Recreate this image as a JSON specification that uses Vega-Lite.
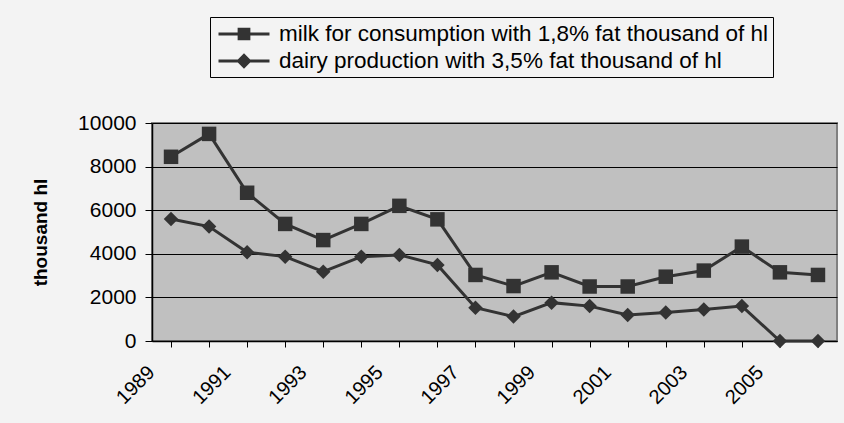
{
  "$schema": "https://vega.github.io/schema/vega-lite/v6.json",
  "autosize": "none",
  "width": 685,
  "height": 218,
  "padding": {"left": 152, "top": 123, "right": 7, "bottom": 82},
  "background": "#f3f3f3",
  "config": {
    "font": "Liberation Sans",
    "view": {"fill": "#c0c0c0", "stroke": "#808080", "strokeWidth": 2}
  },
  "data": {
    "values": [
      {"year": 1989, "series": "milk for consumption with 1,8% fat thousand of hl", "value": 8450},
      {"year": 1990, "series": "milk for consumption with 1,8% fat thousand of hl", "value": 9500},
      {"year": 1991, "series": "milk for consumption with 1,8% fat thousand of hl", "value": 6800},
      {"year": 1992, "series": "milk for consumption with 1,8% fat thousand of hl", "value": 5370},
      {"year": 1993, "series": "milk for consumption with 1,8% fat thousand of hl", "value": 4630},
      {"year": 1994, "series": "milk for consumption with 1,8% fat thousand of hl", "value": 5370},
      {"year": 1995, "series": "milk for consumption with 1,8% fat thousand of hl", "value": 6200},
      {"year": 1996, "series": "milk for consumption with 1,8% fat thousand of hl", "value": 5580},
      {"year": 1997, "series": "milk for consumption with 1,8% fat thousand of hl", "value": 3030},
      {"year": 1998, "series": "milk for consumption with 1,8% fat thousand of hl", "value": 2520},
      {"year": 1999, "series": "milk for consumption with 1,8% fat thousand of hl", "value": 3150},
      {"year": 2000, "series": "milk for consumption with 1,8% fat thousand of hl", "value": 2500},
      {"year": 2001, "series": "milk for consumption with 1,8% fat thousand of hl", "value": 2500},
      {"year": 2002, "series": "milk for consumption with 1,8% fat thousand of hl", "value": 2950},
      {"year": 2003, "series": "milk for consumption with 1,8% fat thousand of hl", "value": 3230},
      {"year": 2004, "series": "milk for consumption with 1,8% fat thousand of hl", "value": 4330},
      {"year": 2005, "series": "milk for consumption with 1,8% fat thousand of hl", "value": 3150},
      {"year": 2006, "series": "milk for consumption with 1,8% fat thousand of hl", "value": 3030},
      {"year": 1989, "series": "dairy production with 3,5% fat thousand of hl", "value": 5600},
      {"year": 1990, "series": "dairy production with 3,5% fat thousand of hl", "value": 5250},
      {"year": 1991, "series": "dairy production with 3,5% fat thousand of hl", "value": 4070},
      {"year": 1992, "series": "dairy production with 3,5% fat thousand of hl", "value": 3870},
      {"year": 1993, "series": "dairy production with 3,5% fat thousand of hl", "value": 3180},
      {"year": 1994, "series": "dairy production with 3,5% fat thousand of hl", "value": 3870},
      {"year": 1995, "series": "dairy production with 3,5% fat thousand of hl", "value": 3950},
      {"year": 1996, "series": "dairy production with 3,5% fat thousand of hl", "value": 3490},
      {"year": 1997, "series": "dairy production with 3,5% fat thousand of hl", "value": 1530},
      {"year": 1998, "series": "dairy production with 3,5% fat thousand of hl", "value": 1120},
      {"year": 1999, "series": "dairy production with 3,5% fat thousand of hl", "value": 1760},
      {"year": 2000, "series": "dairy production with 3,5% fat thousand of hl", "value": 1600},
      {"year": 2001, "series": "dairy production with 3,5% fat thousand of hl", "value": 1190},
      {"year": 2002, "series": "dairy production with 3,5% fat thousand of hl", "value": 1310},
      {"year": 2003, "series": "dairy production with 3,5% fat thousand of hl", "value": 1450},
      {"year": 2004, "series": "dairy production with 3,5% fat thousand of hl", "value": 1600},
      {"year": 2005, "series": "dairy production with 3,5% fat thousand of hl", "value": 0},
      {"year": 2006, "series": "dairy production with 3,5% fat thousand of hl", "value": 0}
    ]
  },
  "encoding": {
    "x": {
      "field": "year",
      "type": "ordinal",
      "scale": {"paddingInner": 0, "paddingOuter": 0},
      "axis": {
        "title": null,
        "bandPosition": 0,
        "domainColor": "#000000",
        "domainWidth": 1.5,
        "tickColor": "#000000",
        "tickSize": 6,
        "labelExpr": "(datum.value - 1989) % 2 == 0 ? datum.label : ''",
        "labelAngle": -45,
        "labelAlign": "right",
        "labelBaseline": "middle",
        "labelOffset": -20,
        "labelPadding": 22,
        "labelFontSize": 20,
        "labelColor": "#000000",
        "labelFont": "Liberation Sans"
      }
    },
    "y": {
      "field": "value",
      "type": "quantitative",
      "scale": {"domain": [0, 10000], "nice": false},
      "axis": {
        "title": "thousand hl",
        "titleFontSize": 19,
        "titleFontWeight": "bold",
        "titleColor": "#000000",
        "titlePadding": 27,
        "format": "d",
        "values": [0, 2000, 4000, 6000, 8000, 10000],
        "grid": true,
        "gridColor": "#000000",
        "gridWidth": 1,
        "domainColor": "#000000",
        "domainWidth": 1.5,
        "tickColor": "#000000",
        "tickSize": 7,
        "labelPadding": 9,
        "labelFontSize": 21,
        "labelColor": "#000000",
        "labelFont": "Liberation Sans"
      }
    }
  },
  "resolve": {"scale": {"shape": "independent"}, "legend": {"shape": "independent"}},
  "layer": [
    {
      "mark": {"type": "line", "color": "#333333", "strokeWidth": 3},
      "encoding": {"detail": {"field": "series"}}
    },
    {
      "mark": {"type": "point", "filled": true, "opacity": 1, "color": "#333333", "size": 210},
      "encoding": {
        "shape": {
          "field": "series",
          "type": "nominal",
          "sort": null,
          "scale": {
            "domain": ["milk for consumption with 1,8% fat thousand of hl", "dairy production with 3,5% fat thousand of hl"],
            "range": ["square", "diamond"]
          },
          "legend": null
        }
      }
    },
    {
      "mark": {"type": "point", "filled": true, "opacity": 0, "color": "#333333", "size": 650},
      "encoding": {
        "shape": {
          "field": "series",
          "type": "nominal",
          "sort": null,
          "scale": {
            "domain": ["milk for consumption with 1,8% fat thousand of hl", "dairy production with 3,5% fat thousand of hl"],
            "range": ["M-2,-0.12H2V0.12H-2ZM-0.5,-0.5H0.5V0.5H-0.5Z", "M-2,-0.12H2V0.12H-2ZM0,-0.6L0.6,0L0,0.6L-0.6,0Z"]
          },
          "legend": {
            "title": null,
            "orient": "none",
            "legendX": 58,
            "legendY": -106,
            "direction": "vertical",
            "strokeColor": "#000000",
            "fillColor": "#f3f3f3",
            "padding": 4,
            "symbolSize": 650,
            "symbolFillColor": "#333333",
            "symbolStrokeColor": "#333333",
            "symbolStrokeWidth": 0,
            "symbolOpacity": 1,
            "symbolOffset": 17,
            "labelFontSize": 22.5,
            "labelColor": "#000000",
            "labelFont": "Liberation Sans",
            "labelLimit": 1000,
            "labelOffset": 22,
            "rowPadding": 2
          }
        }
      }
    }
  ]
}
